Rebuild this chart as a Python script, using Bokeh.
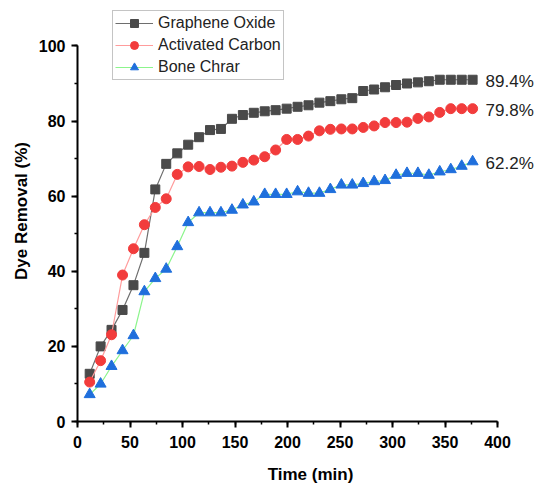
from bokeh.plotting import figure
from bokeh.models import (Legend, LegendItem, Label, SingleIntervalTicker, Range1d)
from bokeh.embed import file_html
from bokeh.resources import INLINE

time_min = [11.6, 22.0, 32.4, 42.9, 53.3, 63.7, 74.1, 84.5, 95.0, 105.4, 115.8, 126.2,
            136.6, 147.1, 157.5, 167.9, 178.3, 188.7, 199.2, 209.6, 220.0, 230.4, 240.8, 251.3,
            261.7, 272.1, 282.5, 292.9, 303.4, 313.8, 324.2, 334.6, 345.0, 355.5, 365.9, 376.3]
graphene_oxide = [12.7, 20.0, 24.4, 29.7, 36.3, 44.9, 61.8, 68.6, 71.4, 73.7, 75.7, 77.6,
                  77.9, 80.6, 81.6, 82.2, 82.6, 82.9, 83.3, 83.8, 84.2, 84.9, 85.3, 85.8,
                  86.1, 88.0, 88.4, 89.0, 89.6, 90.0, 90.3, 90.6, 91.0, 91.0, 91.0, 91.0]
activated_carbon = [10.5, 16.2, 23.1, 39.0, 46.0, 52.4, 57.0, 59.3, 65.8, 67.8, 67.9, 67.1,
                    67.7, 68.0, 69.0, 69.6, 70.5, 72.3, 75.1, 75.1, 76.0, 77.4, 77.8, 77.9,
                    77.9, 78.3, 78.7, 79.6, 79.6, 79.7, 80.7, 81.1, 82.3, 83.3, 83.3, 83.3]
bone_char = [7.2, 10.0, 14.7, 18.9, 22.9, 34.6, 38.1, 40.6, 46.6, 53.0, 55.6, 55.6,
             55.6, 56.3, 57.7, 58.5, 60.5, 60.5, 60.5, 61.2, 60.8, 60.8, 61.8, 63.0,
             63.0, 63.4, 63.9, 64.2, 65.6, 66.1, 66.1, 65.6, 66.5, 67.1, 68.0, 69.2]
series_names = ["Graphene Oxide", "Activated Carbon", "Bone Chrar"]
end_labels = ["89.4%", "79.8%", "62.2%"]

FONT = "Liberation Sans"

# Frame spans to the top and right edges so the legend and end labels are not clipped;
# the axes themselves are bounded to 0-400 and 0-100.
p = figure(width=543, height=486, output_backend="svg", toolbar_location=None,
           x_range=Range1d(0, 443.8), y_range=Range1d(0, 112.1),
           min_border_left=77, min_border_right=0, min_border_top=0, min_border_bottom=64)
p.xgrid.visible = False
p.ygrid.visible = False
p.outline_line_color = None
p.background_fill_color = "white"
p.border_fill_color = "white"

p.xaxis.ticker = SingleIntervalTicker(interval=50, num_minor_ticks=2)
p.yaxis.ticker = SingleIntervalTicker(interval=20, num_minor_ticks=2)
p.xaxis.bounds = (0, 400)
p.yaxis.bounds = (0, 100)
for ax in (p.xaxis[0], p.yaxis[0]):
    ax.axis_line_width = 2
    ax.axis_line_color = "black"
    ax.major_tick_line_width = 2
    ax.major_tick_line_color = "black"
    ax.minor_tick_line_width = 1.5
    ax.minor_tick_line_color = "black"
    ax.major_tick_out = 6
    ax.major_tick_in = 0
    ax.minor_tick_out = 3
    ax.minor_tick_in = 0
    ax.major_label_text_font = FONT
    ax.major_label_text_font_style = "bold"
    ax.major_label_text_font_size = "16px"
    ax.major_label_text_color = "black"
    ax.axis_label_text_font = FONT
    ax.axis_label_text_font_style = "bold"
    ax.axis_label_text_font_size = "17px"
    ax.axis_label_text_color = "black"
p.xaxis.major_label_standoff = 8
p.yaxis.major_label_standoff = 6
p.xaxis.axis_label = "Time (min)"
p.yaxis.axis_label = "Dye Removal (%)"
p.xaxis.axis_label_standoff = 14
p.yaxis.axis_label_standoff = 5

styles = [
    (graphene_oxide, "#6e6e6e", "#4a4a4a", "square", 9),
    (activated_carbon, "#ff9c9c", "#f23c3c", "circle", 10),
    (bone_char, "#8cf58c", "#1f6fdc", "triangle", 11),
]
items = []
for name, (vals, lc, mc, marker, sz) in zip(series_names, styles):
    ln = p.line(time_min, vals, line_color=lc, line_width=1.2)
    sc = p.scatter(time_min, vals, marker=marker, size=sz, fill_color=mc, line_color=mc)
    items.append(LegendItem(label=name, renderers=[ln, sc]))

legend = Legend(items=items, location=(35, 341), orientation="vertical",
                label_text_font=FONT, label_text_font_size="16px", label_text_color="#222222",
                glyph_width=38, glyph_height=20, label_height=20, label_standoff=5,
                spacing=2, padding=2, margin=0,
                border_line_color="#8a8a8a", border_line_width=1.2,
                background_fill_color="white", background_fill_alpha=1)
p.add_layout(legend, "center")

for vals, txt in zip([graphene_oxide, activated_carbon, bone_char], end_labels):
    p.add_layout(Label(x=time_min[-1], y=vals[-1], text=txt, x_offset=13, y_offset=-2,
                       text_font=FONT, text_font_size="17px", text_color="#222222",
                       text_baseline="middle", text_align="left"))

open("out.html", "w").write(file_html(p, INLINE))
